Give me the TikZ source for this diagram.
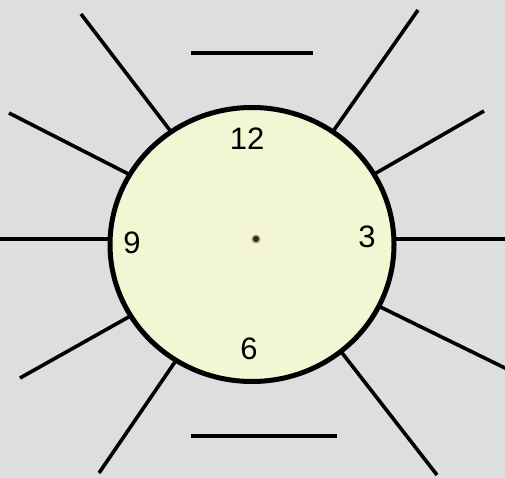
\documentclass[tikz,border=0pt]{standalone}
\usepackage{fontspec}
\setmainfont{Liberation Sans}
\definecolor{bg}{RGB}{222,222,222}
\definecolor{face}{RGB}{243,246,210}
\definecolor{dotc}{RGB}{60,40,15}
\begin{document}
\begin{tikzpicture}[x=1pt,y=-1pt,
  ray/.style={line width=3.6pt},
  bar/.style={line width=4pt},
  num/.style={font=\fontsize{31}{31}\selectfont, inner sep=0pt}]
\fill[bg] (0,0) rectangle (505,478);
\useasboundingbox (0,0) rectangle (505,478);
% ray ends
\coordinate (a1) at (81,14);   \coordinate (b1) at (185,150);
\coordinate (a2) at (9,113);   \coordinate (b2) at (150,185);
\coordinate (a3) at (-2,239);  \coordinate (b3) at (140,239);
\coordinate (a4) at (20,378);  \coordinate (b4) at (150,305);
\coordinate (a5) at (99,473);  \coordinate (b5) at (190,340);
\coordinate (a6) at (418,10);  \coordinate (b6) at (320,150);
\coordinate (a7) at (484,111); \coordinate (b7) at (350,188);
\coordinate (a8) at (507,239); \coordinate (b8) at (370,239);
\coordinate (a9) at (507,369); \coordinate (b9) at (360,297);
\coordinate (a10) at (437,475); \coordinate (b10) at (325,331);
\foreach \i in {1,...,10} \draw[ray] (a\i) -- (b\i);
% clock face
\draw[line width=5pt, fill=face] (252,244.5) ellipse [x radius=142, y radius=137];
\coordinate (t1) at (191,53); \coordinate (t2) at (313,53);
\coordinate (u1) at (191,436); \coordinate (u2) at (337,436);
\draw[bar] (t1) -- (t2);
\draw[bar] (u1) -- (u2);
\node[num] (n12) at (247,139) {12};
\node[num] (n3) at (367,237) {3};
\node[num] (n9) at (132,243) {9};
\node[num] (n6) at (249,349) {6};
\fill[dotc!40!face] (256,239) circle (4.5);
\fill[dotc] (256,239) circle (3);
\end{tikzpicture}
\end{document}
